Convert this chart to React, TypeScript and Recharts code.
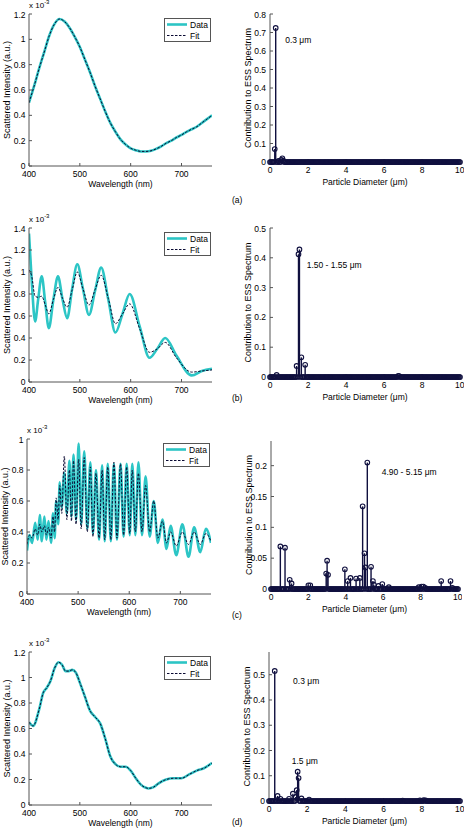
import React from 'react';
import { LineChart, Line, XAxis, YAxis, ScatterChart, Scatter, ErrorBar, ReferenceDot } from 'recharts';

const FONT = '"Liberation Sans", Arial, Helvetica, sans-serif';
const DATA_COLOR = '#2cc5c5';
const FIT_COLOR = '#0a0a33';
const STEM_COLOR = '#10103f';
const AXIS_COLOR = '#555';

// ---------- Spectra (left column), intensities in units of 1e-3 ----------
const wavelengthTicks = [400, 500, 600, 700];

const wavelengthsA = [400, 410, 420, 430, 440, 450, 460, 470, 480, 490, 500, 510, 520, 530, 540, 550, 560, 570, 580, 590, 600, 610, 620, 630, 640, 650, 660, 670, 680, 690, 700, 710, 720, 730, 740, 750, 760];
const dataA = [0.5, 0.63, 0.77, 0.9, 1.03, 1.12, 1.16, 1.14, 1.09, 1.02, 0.94, 0.84, 0.74, 0.63, 0.53, 0.43, 0.34, 0.27, 0.21, 0.17, 0.14, 0.125, 0.115, 0.115, 0.12, 0.135, 0.155, 0.18, 0.2, 0.225, 0.245, 0.27, 0.29, 0.31, 0.34, 0.37, 0.4];
const fitA = [0.5, 0.63, 0.77, 0.9, 1.03, 1.12, 1.16, 1.14, 1.09, 1.02, 0.94, 0.84, 0.74, 0.63, 0.53, 0.43, 0.34, 0.27, 0.21, 0.17, 0.14, 0.125, 0.115, 0.115, 0.12, 0.135, 0.155, 0.18, 0.2, 0.225, 0.245, 0.27, 0.29, 0.31, 0.34, 0.37, 0.4];

const wavelengthsB = [400, 405, 412, 418, 425, 432, 439, 448, 457, 466, 475, 485, 495, 506, 518, 530, 542, 556, 570, 584, 598, 618, 637, 652, 668, 690, 720, 740, 760];
const dataB = [1.35, 0.95, 0.55, 0.75, 0.96, 0.72, 0.49, 0.75, 0.96, 0.75, 0.58, 0.85, 1.07, 0.85, 0.61, 0.83, 1.04, 0.75, 0.45, 0.62, 0.8, 0.5, 0.22, 0.3, 0.4, 0.24, 0.06, 0.1, 0.12];
const fitB = [1.02, 0.97, 0.78, 0.77, 0.78, 0.7, 0.62, 0.75, 0.86, 0.76, 0.68, 0.84, 1.0, 0.85, 0.7, 0.84, 0.97, 0.76, 0.53, 0.62, 0.71, 0.48, 0.27, 0.3, 0.36, 0.22, 0.09, 0.1, 0.11];

const wavelengthsC = [400, 405, 410, 416, 421, 425, 429, 434, 438, 442, 447, 451, 454, 457, 461, 464, 468, 473, 478, 483, 487, 491, 496, 501, 506, 512, 518, 524, 529, 535, 541, 547, 552, 558, 564, 570, 576, 583, 589, 595, 601, 606, 612, 618, 625, 632, 640, 648, 656, 665, 673, 681, 692, 704, 716, 727, 739, 750, 760];
const dataC = [0.28, 0.38, 0.33, 0.46, 0.35, 0.51, 0.34, 0.5, 0.35, 0.47, 0.33, 0.52, 0.36, 0.6, 0.45, 0.72, 0.56, 0.78, 0.52, 0.86, 0.5, 0.9, 0.48, 0.97, 0.45, 0.92, 0.42, 0.85, 0.39, 0.8, 0.35, 0.83, 0.34, 0.84, 0.34, 0.84, 0.35, 0.84, 0.37, 0.84, 0.38, 0.84, 0.38, 0.85, 0.38, 0.76, 0.37, 0.6, 0.33, 0.48, 0.29, 0.44, 0.25, 0.45, 0.24, 0.43, 0.27, 0.42, 0.33];
const fitC = [0.32, 0.38, 0.36, 0.42, 0.38, 0.45, 0.4, 0.44, 0.38, 0.43, 0.36, 0.5, 0.4, 0.62, 0.48, 0.7, 0.52, 0.89, 0.48, 0.8, 0.47, 0.86, 0.45, 0.87, 0.42, 0.88, 0.4, 0.82, 0.37, 0.78, 0.36, 0.8, 0.35, 0.82, 0.35, 0.85, 0.36, 0.84, 0.38, 0.82, 0.39, 0.8, 0.4, 0.78, 0.4, 0.7, 0.4, 0.6, 0.36, 0.47, 0.33, 0.4, 0.31, 0.4, 0.32, 0.4, 0.32, 0.39, 0.34];

const wavelengthsD = [400, 408, 420, 428, 435, 442, 450, 458, 465, 472, 478, 485, 492, 500, 510, 520, 530, 540, 550, 560, 570, 580, 590, 600, 610, 620, 630, 635, 645, 655, 670, 685, 700, 715, 730, 745, 760];
const dataD = [0.65, 0.62, 0.75, 0.88, 0.92, 0.97, 1.07, 1.12, 1.1, 1.05, 1.05, 1.06, 1.04, 0.96, 0.85, 0.74, 0.69, 0.64, 0.52, 0.38, 0.32, 0.3, 0.3, 0.27, 0.21, 0.16, 0.135, 0.13, 0.14, 0.17, 0.2, 0.21, 0.21, 0.24, 0.27, 0.29, 0.33];
const fitD = [0.65, 0.62, 0.75, 0.88, 0.92, 0.97, 1.07, 1.12, 1.1, 1.05, 1.05, 1.06, 1.04, 0.96, 0.85, 0.74, 0.69, 0.64, 0.52, 0.38, 0.32, 0.3, 0.3, 0.27, 0.21, 0.16, 0.135, 0.13, 0.14, 0.17, 0.2, 0.21, 0.21, 0.24, 0.27, 0.29, 0.33];

// ---------- Size distributions (right column) ----------
const diameterTicks = [0, 2, 4, 6, 8, 10];
const DIAMETER_STEP = 0.05;
const DIAMETER_COUNT = 201;
const diameters = Array.from({ length: DIAMETER_COUNT }, (_, i) => Math.round(i * DIAMETER_STEP * 100) / 100);

const peakDiamA = [0.25, 0.3, 0.45, 0.6, 0.65, 0.7];
const peakValA = [0.07, 0.725, 0.006, 0.012, 0.02, 0.008];

const peakDiamB = [0.35, 1.4, 1.5, 1.55, 1.65, 1.85, 6.75, 6.8];
const peakValB = [0.007, 0.037, 0.412, 0.428, 0.066, 0.041, 0.004, 0.003];

const peakDiamC = [0.5, 0.75, 1.0, 1.1, 2.0, 2.1, 2.95, 3.0, 3.05, 3.95, 4.1, 4.25, 4.55, 4.75, 4.9, 5.0, 5.05, 5.15, 5.35, 5.45, 5.5, 5.75, 5.95, 6.3, 7.9, 8.05, 8.15, 8.25, 9.1, 9.6, 9.7];
const peakValC = [0.069, 0.067, 0.015, 0.009, 0.006, 0.006, 0.025, 0.046, 0.023, 0.032, 0.013, 0.018, 0.017, 0.018, 0.134, 0.058, 0.035, 0.205, 0.036, 0.013, 0.007, 0.005, 0.008, 0.003, 0.003, 0.004, 0.004, 0.002, 0.013, 0.013, 0.002];

const peakDiamD = [0.3, 0.45, 0.6, 1.05, 1.25, 1.4, 1.45, 1.5, 1.55, 1.7, 2.1, 7.0, 7.9, 8.1, 8.2];
const peakValD = [0.515, 0.02, 0.009, 0.009, 0.029, 0.016, 0.043, 0.116, 0.091, 0.01, 0.006, 0.002, 0.003, 0.004, 0.003];

// ---------- layout ----------
type Rect = { left: number; top: number; right: number; bottom: number };
const Y_AXIS_W = 30;
const X_AXIS_H = 30;
const M_TOP = 4;
const M_RIGHT = 4;

const tickStyle = { fontSize: 8.5, fill: '#000', fontFamily: FONT };

function frame(r: Rect) {
  return {
    style: { position: 'absolute' as const, left: r.left - Y_AXIS_W, top: r.top - M_TOP },
    w: Y_AXIS_W + (r.right - r.left) + M_RIGHT,
    h: M_TOP + (r.bottom - r.top) + X_AXIS_H,
  };
}

function Exponent({ rect }: { rect: Rect }) {
  return (
    <div style={{ position: 'absolute', left: rect.left, top: rect.top - 13, fontFamily: FONT, fontSize: 8, lineHeight: '10px', whiteSpace: 'nowrap' }}>
      x 10<span style={{ fontSize: 6, position: 'relative', top: -4 }}>-3</span>
    </div>
  );
}

function LegendBox({ rect }: { rect: Rect }) {
  const w = 47;
  const h = 24;
  return (
    <svg width={w} height={h} style={{ position: 'absolute', left: rect.right - w - 1, top: rect.top + 4 }}>
      <rect x={0.5} y={0.5} width={w - 1} height={h - 1} fill="#fff" stroke={AXIS_COLOR} strokeWidth={1} />
      <line x1={3} x2={23} y1={6.5} y2={6.5} stroke={DATA_COLOR} strokeWidth={2.6} />
      <line x1={3} x2={23} y1={17.5} y2={17.5} stroke={FIT_COLOR} strokeWidth={1} strokeDasharray="2.5 1.5" />
      <text x={26} y={9.5} fontSize={8.5} fontFamily={FONT} fill="#000">Data</text>
      <text x={26} y={20.5} fontSize={8.5} fontFamily={FONT} fill="#000">Fit</text>
    </svg>
  );
}

function SpectrumPanel({ rect, wl, data, fit, yMax, yTicks }: { rect: Rect; wl: number[]; data: number[]; fit: number[]; yMax: number; yTicks: number[] }) {
  const rows = wl.map((w, i) => ({ w, data: data[i], fit: fit[i] }));
  const f = frame(rect);
  return (
    <>
      <div style={f.style}>
        <LineChart width={f.w} height={f.h} data={rows} margin={{ top: M_TOP, right: M_RIGHT, bottom: 0, left: 0 }}>
          <XAxis dataKey="w" type="number" domain={[400, 760]} ticks={wavelengthTicks} allowDataOverflow height={X_AXIS_H}
            tickSize={-3} tickMargin={7.5} stroke={AXIS_COLOR} tick={tickStyle}
            label={{ value: 'Wavelength (nm)', position: 'insideBottom', offset: 9.5, fontSize: 8.5, fill: '#000', fontFamily: FONT }} />
          <XAxis xAxisId="top" orientation="top" type="number" domain={[400, 760]} ticks={wavelengthTicks} allowDataOverflow height={0}
            tickSize={-3} tick={false} stroke={AXIS_COLOR} />
          <YAxis type="number" domain={[0, yMax]} ticks={yTicks} allowDataOverflow width={Y_AXIS_W}
            tickSize={-3} tickMargin={6.5} stroke={AXIS_COLOR} tick={tickStyle}
            label={{ value: 'Scattered Intensity (a.u.)', angle: -90, position: 'insideLeft', offset: 7.5, fontSize: 9, fill: '#000', fontFamily: FONT, style: { textAnchor: 'middle' } }} />
          <YAxis yAxisId="right" orientation="right" type="number" domain={[0, yMax]} ticks={yTicks} allowDataOverflow width={0}
            tickSize={-3} tick={false} stroke={AXIS_COLOR} />
          <Line dataKey="data" type="monotone" stroke={DATA_COLOR} strokeWidth={2.6} dot={false} isAnimationActive={false} />
          <Line dataKey="fit" type="monotone" stroke={FIT_COLOR} strokeWidth={1} strokeDasharray="2.5 1.5" dot={false} isAnimationActive={false} />
        </LineChart>
      </div>
      <Exponent rect={rect} />
      <LegendBox rect={rect} />
    </>
  );
}

type Note = { x: number; y: number; text: string };

function Circle(props: any) {
  const { cx, cy } = props;
  if (cx == null || cy == null) return null;
  return <circle cx={cx} cy={cy} r={2.3} fill="none" stroke={STEM_COLOR} strokeWidth={1.1} />;
}

function StemPanel({ rect, pd, pv, yMax, yTicks, notes }: { rect: Rect; pd: number[]; pv: number[]; yMax: number; yTicks: number[]; notes: Note[] }) {
  const rows = diameters.map((d) => {
    const i = pd.findIndex((p) => Math.abs(p - d) < 1e-6);
    const c = i >= 0 ? pv[i] : 0;
    return { d, c, stem: [c, 0] };
  });
  const f = frame(rect);
  return (
    <div style={f.style}>
      <ScatterChart width={f.w} height={f.h} margin={{ top: M_TOP, right: M_RIGHT, bottom: 0, left: 0 }}>
        <XAxis dataKey="d" type="number" domain={[0, 10]} ticks={diameterTicks} height={X_AXIS_H}
          tickSize={-3} tickMargin={8} stroke={AXIS_COLOR} tick={tickStyle}
          label={{ value: 'Particle Diameter (μm)', position: 'insideBottom', offset: 7, fontSize: 8.5, fill: '#000', fontFamily: FONT }} />
        <XAxis xAxisId="top" orientation="top" type="number" domain={[0, 10]} ticks={diameterTicks} allowDataOverflow height={0}
          tickSize={-3} tick={false} stroke={AXIS_COLOR} />
        <YAxis dataKey="c" type="number" domain={[0, yMax]} ticks={yTicks} width={Y_AXIS_W}
          tickSize={-3} tickMargin={7} stroke={AXIS_COLOR} tick={tickStyle}
          label={{ value: 'Contribution to ESS Spectrum', angle: -90, position: 'insideLeft', offset: 7.5, fontSize: 9, fill: '#000', fontFamily: FONT, style: { textAnchor: 'middle' } }} />
        <YAxis yAxisId="right" orientation="right" type="number" domain={[0, yMax]} ticks={yTicks} allowDataOverflow width={0}
          tickSize={-3} tick={false} stroke={AXIS_COLOR} />
        <Scatter data={rows} dataKey="c" shape={Circle} isAnimationActive={false}>
          <ErrorBar dataKey="stem" direction="y" width={0} stroke={STEM_COLOR} strokeWidth={1.4} />
        </Scatter>
        {notes.map((n) => (
          <ReferenceDot key={n.text} x={n.x} y={n.y} r={0} fill="none" stroke="none"
            label={{ value: n.text, position: 'right', offset: 0, fontSize: 8.5, fill: '#000', fontFamily: FONT }} />
        ))}
      </ScatterChart>
    </div>
  );
}

function PanelLetter({ text, top }: { text: string; top: number }) {
  return (
    <div style={{ position: 'absolute', left: 232, top, fontFamily: FONT, fontSize: 8.5, lineHeight: '10px' }}>{text}</div>
  );
}

export default function App() {
  return (
    <div style={{ position: 'absolute', left: 0, top: 0, width: 465, height: 829, background: '#fff', fontFamily: FONT }}>
      <SpectrumPanel rect={{ left: 29, top: 14, right: 212, bottom: 166 }} wl={wavelengthsA} data={dataA} fit={fitA} yMax={1.2} yTicks={[0, 0.2, 0.4, 0.6, 0.8, 1, 1.2]} />
      <StemPanel rect={{ left: 270, top: 14, right: 460, bottom: 162 }} pd={peakDiamA} pv={peakValA} yMax={0.8} yTicks={[0, 0.1, 0.2, 0.3, 0.4, 0.5, 0.6, 0.7, 0.8]}
        notes={[{ x: 0.8, y: 0.66, text: '0.3 μm' }]} />
      <PanelLetter text="(a)" top={195} />

      <SpectrumPanel rect={{ left: 29, top: 228, right: 212, bottom: 382 }} wl={wavelengthsB} data={dataB} fit={fitB} yMax={1.4} yTicks={[0, 0.2, 0.4, 0.6, 0.8, 1, 1.2, 1.4]} />
      <StemPanel rect={{ left: 270, top: 228, right: 460, bottom: 377 }} pd={peakDiamB} pv={peakValB} yMax={0.5} yTicks={[0, 0.1, 0.2, 0.3, 0.4, 0.5]}
        notes={[{ x: 1.93, y: 0.376, text: '1.50 - 1.55 μm' }]} />
      <PanelLetter text="(b)" top={393} />

      <SpectrumPanel rect={{ left: 27, top: 439, right: 211, bottom: 594 }} wl={wavelengthsC} data={dataC} fit={fitC} yMax={1} yTicks={[0, 0.2, 0.4, 0.6, 0.8, 1]} />
      <StemPanel rect={{ left: 271, top: 441, right: 458, bottom: 589 }} pd={peakDiamC} pv={peakValC} yMax={0.24} yTicks={[0, 0.05, 0.1, 0.15, 0.2]}
        notes={[{ x: 5.92, y: 0.19, text: '4.90 - 5.15 μm' }]} />
      <PanelLetter text="(c)" top={610} />

      <SpectrumPanel rect={{ left: 29, top: 652, right: 212, bottom: 805 }} wl={wavelengthsD} data={dataD} fit={fitD} yMax={1.2} yTicks={[0, 0.2, 0.4, 0.6, 0.8, 1, 1.2]} />
      <StemPanel rect={{ left: 269, top: 652, right: 460, bottom: 801 }} pd={peakDiamD} pv={peakValD} yMax={0.59} yTicks={[0, 0.1, 0.2, 0.3, 0.4, 0.5]}
        notes={[{ x: 1.26, y: 0.475, text: '0.3 μm' }, { x: 1.19, y: 0.158, text: '1.5 μm' }]} />
      <PanelLetter text="(d)" top={817} />
    </div>
  );
}
